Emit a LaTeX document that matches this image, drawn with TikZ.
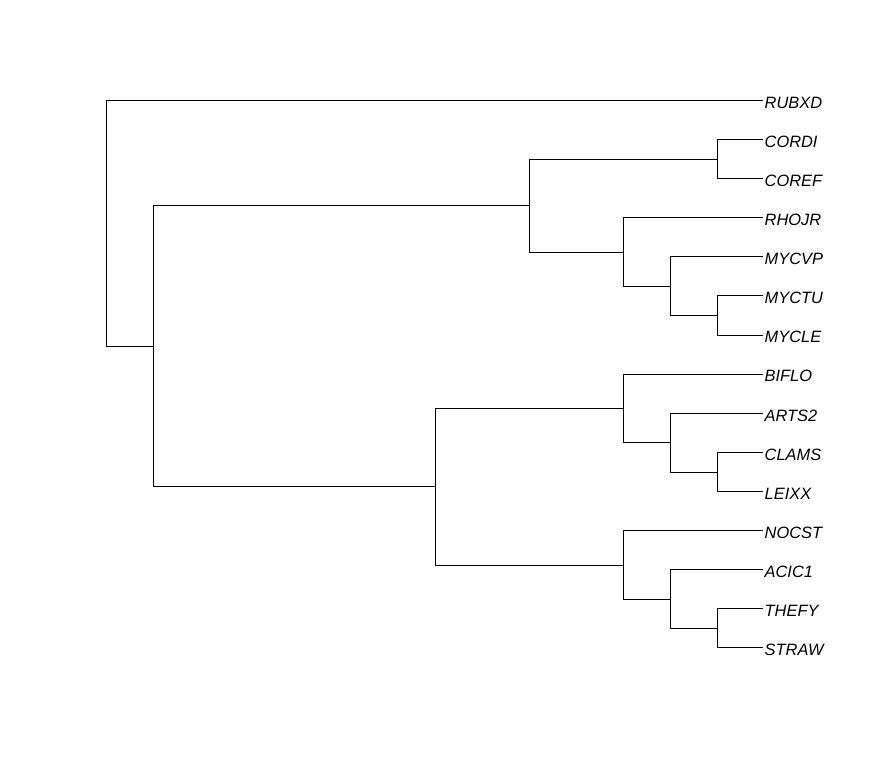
\documentclass[tikz,border=0pt]{standalone}
\usepackage{fontspec}
\setmainfont{Liberation Sans}
\begin{document}
\begin{tikzpicture}[x=1pt,y=-1pt,
  edge/.style={line width=1pt},
  leaf/.style={anchor=base west, inner sep=0pt, font=\fontsize{16.4}{19}\selectfont\itshape}]
\useasboundingbox (0,0) rectangle (876,768);
% leaf tips and labels
\foreach \i/\lab in {0/RUBXD,1/CORDI,2/COREF,3/RHOJR,4/MYCVP,5/MYCTU,6/MYCLE,7/BIFLO,8/ARTS2,9/CLAMS,10/LEIXX,11/NOCST,12/ACIC1,13/THEFY,14/STRAW}{
  \coordinate (t\i) at (763.3,{100.3+39.12*\i});
  \node[leaf] (l\i) at (764.5,{108.1+39.12*\i}) {\lab};
}
% internal nodes
\coordinate (root) at (106,223.2);
\coordinate (A) at (153.3,346);
\coordinate (B) at (529.7,205.3);
\coordinate (C) at (435.3,486.7);
\coordinate (P1) at (717.3,159.3);
\coordinate (G1) at (623.5,252.3);
\coordinate (G2) at (670.5,286);
\coordinate (P2) at (717.3,315.5);
\coordinate (G3) at (623.3,408.3);
\coordinate (G4) at (670.3,442.3);
\coordinate (P3) at (717.3,472.3);
\coordinate (G5) at (623.3,565);
\coordinate (G6) at (670.3,599);
\coordinate (P4) at (717.3,628.7);
% edges
\draw[edge] (root) |- (t0);
\draw[edge] (root) |- (A);
\draw[edge] (A) |- (B);
\draw[edge] (A) |- (C);
\draw[edge] (B) |- (P1);
\draw[edge] (B) |- (G1);
\draw[edge] (P1) |- (t1);
\draw[edge] (P1) |- (t2);
\draw[edge] (G1) |- (t3);
\draw[edge] (G1) |- (G2);
\draw[edge] (G2) |- (t4);
\draw[edge] (G2) |- (P2);
\draw[edge] (P2) |- (t5);
\draw[edge] (P2) |- (t6);
\draw[edge] (C) |- (G3);
\draw[edge] (C) |- (G5);
\draw[edge] (G3) |- (t7);
\draw[edge] (G3) |- (G4);
\draw[edge] (G4) |- (t8);
\draw[edge] (G4) |- (P3);
\draw[edge] (P3) |- (t9);
\draw[edge] (P3) |- (t10);
\draw[edge] (G5) |- (t11);
\draw[edge] (G5) |- (G6);
\draw[edge] (G6) |- (t12);
\draw[edge] (G6) |- (P4);
\draw[edge] (P4) |- (t13);
\draw[edge] (P4) |- (t14);
\end{tikzpicture}
\end{document}
